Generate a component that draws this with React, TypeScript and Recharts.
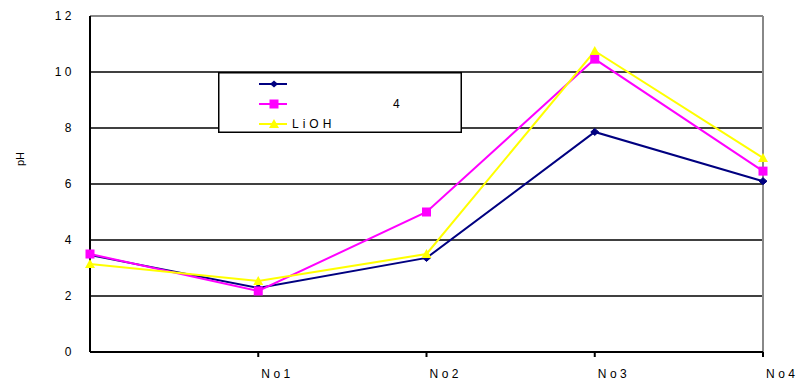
import React from "react";
import {
  LineChart,
  Line,
  XAxis,
  YAxis,
  CartesianGrid,
  ReferenceLine,
} from "recharts";

// Sample positions along the x axis (first one is the unlabelled start point)
const categories = ["", "No1", "No2", "No3", "No4"];

// pH readings per series
const seriesA = [3.46, 2.29, 3.36, 7.86, 6.1];
const seriesB = [3.5, 2.18, 5.0, 10.46, 6.46];
const seriesLiOH = [3.14, 2.54, 3.5, 10.75, 6.93];

const seriesNames = ["", "4", "LiOH"];
const yTicks = [0, 2, 4, 6, 8, 10, 12];

const data = categories.map((c, i) => ({
  cat: c,
  a: seriesA[i],
  b: seriesB[i],
  c: seriesLiOH[i],
}));

const FONT = "'Liberation Sans', Arial, sans-serif";
const NAVY = "#000080";
const MAGENTA = "#FF00FF";
const YELLOW = "#FFFF00";

const Diamond = (p: any) => {
  const { cx, cy } = p;
  if (cx == null || cy == null) return null;
  return (
    <path
      d={`M${cx},${cy - 3.5} L${cx + 4},${cy} L${cx},${cy + 3.5} L${cx - 4},${cy} Z`}
      fill={NAVY}
      stroke={NAVY}
    />
  );
};

const Square = (p: any) => {
  const { cx, cy } = p;
  if (cx == null || cy == null) return null;
  return <rect x={cx - 4.5} y={cy - 4.5} width={9} height={9} fill={MAGENTA} />;
};

const Triangle = (p: any) => {
  const { cx, cy } = p;
  if (cx == null || cy == null) return null;
  return (
    <path
      d={`M${cx},${cy - 5} L${cx + 5},${cy + 4} L${cx - 5},${cy + 4} Z`}
      fill={YELLOW}
    />
  );
};

const XTick = (props: any) => {
  const { x, y, payload, index } = props;
  const axisY = y - 7;
  return (
    <g>
      {index > 0 && (
        <line x1={x} y1={axisY} x2={x} y2={axisY + 5} stroke="#000" strokeWidth={2} />
      )}
      <text
        x={x + 3}
        y={axisY + 26}
        textAnchor="start"
        fontFamily={FONT}
        fontSize={12}
        letterSpacing={3.5}
        fill="#000"
      >
        {payload.value}
      </text>
    </g>
  );
};

const legendItems = [
  { color: NAVY, marker: "diamond", label: seriesNames[0], dx: 74 },
  { color: MAGENTA, marker: "square", label: seriesNames[1], dx: 175 },
  { color: YELLOW, marker: "triangle", label: seriesNames[2], dx: 74 },
];

const LegendBox = () => (
  <svg width={244} height={61} style={{ display: "block" }}>
    <rect x={0.75} y={0.75} width={242.5} height={59.5} fill="#fff" stroke="#000" strokeWidth={1.5} />
    {legendItems.map((it, i) => {
      const cy = 12 + i * 20;
      const cx = 56;
      return (
        <g key={i}>
          <line x1={41} y1={cy} x2={69} y2={cy} stroke={it.color} strokeWidth={2} />
          {it.marker === "diamond" && (
            <path d={`M${cx},${cy - 3.5} L${cx + 4},${cy} L${cx},${cy + 3.5} L${cx - 4},${cy} Z`} fill={it.color} />
          )}
          {it.marker === "square" && (
            <rect x={cx - 4.5} y={cy - 4.5} width={9} height={9} fill={it.color} />
          )}
          {it.marker === "triangle" && (
            <path d={`M${cx},${cy - 5} L${cx + 5},${cy + 4} L${cx - 5},${cy + 4} Z`} fill={it.color} />
          )}
          <text
            x={it.dx}
            y={cy + 4}
            fontFamily={FONT}
            fontSize={12}
            letterSpacing={4}
            fill="#000"
          >
            {it.label}
          </text>
        </g>
      );
    })}
  </svg>
);

export default function App() {
  return (
    <div style={{ position: "absolute", left: 0, top: 0, width: 799, height: 380, background: "#fff" }}>
      <LineChart
        width={799}
        height={380}
        data={data}
        margin={{ top: 16, right: 36, bottom: 0, left: 0 }}
      >
        <CartesianGrid vertical={false} stroke="#000" strokeWidth={1.5} />
        <ReferenceLine y={12} stroke="#888" strokeWidth={2} />
        <ReferenceLine x="No4" stroke="#888" strokeWidth={2} />
        <XAxis
          dataKey="cat"
          height={28}
          interval={0}
          tickLine={false}
          tickSize={5}
          tickMargin={2}
          stroke="#000"
          strokeWidth={2}
          tick={<XTick />}
          padding={{ left: 0, right: 0 }}
        />
        <YAxis
          width={90}
          domain={[0, 12]}
          ticks={yTicks}
          interval={0}
          tickLine={false}
          tickSize={15}
          tickMargin={0}
          stroke="#000"
          strokeWidth={2}
          tick={{ fill: "#000", fontFamily: FONT, fontSize: 12, letterSpacing: 3.5 }}
          label={{
            value: "pH",
            angle: -90,
            position: "insideLeft",
            offset: 20,
            dy: -18,
            style: { fontFamily: FONT, fontSize: 11, fill: "#000" },
          }}
        />
        <Line
          dataKey="a"
          name={seriesNames[0]}
          stroke={NAVY}
          strokeWidth={2}
          dot={<Diamond />}
          activeDot={false}
          isAnimationActive={false}
        />
        <Line
          dataKey="b"
          name={seriesNames[1]}
          stroke={MAGENTA}
          strokeWidth={2}
          dot={<Square />}
          activeDot={false}
          isAnimationActive={false}
        />
        <Line
          dataKey="c"
          name={seriesNames[2]}
          stroke={YELLOW}
          strokeWidth={2}
          dot={<Triangle />}
          activeDot={false}
          isAnimationActive={false}
        />
      </LineChart>
      <div style={{ position: "absolute", left: 218, top: 72, width: 244, height: 61 }}>
        <LegendBox />
      </div>
    </div>
  );
}
